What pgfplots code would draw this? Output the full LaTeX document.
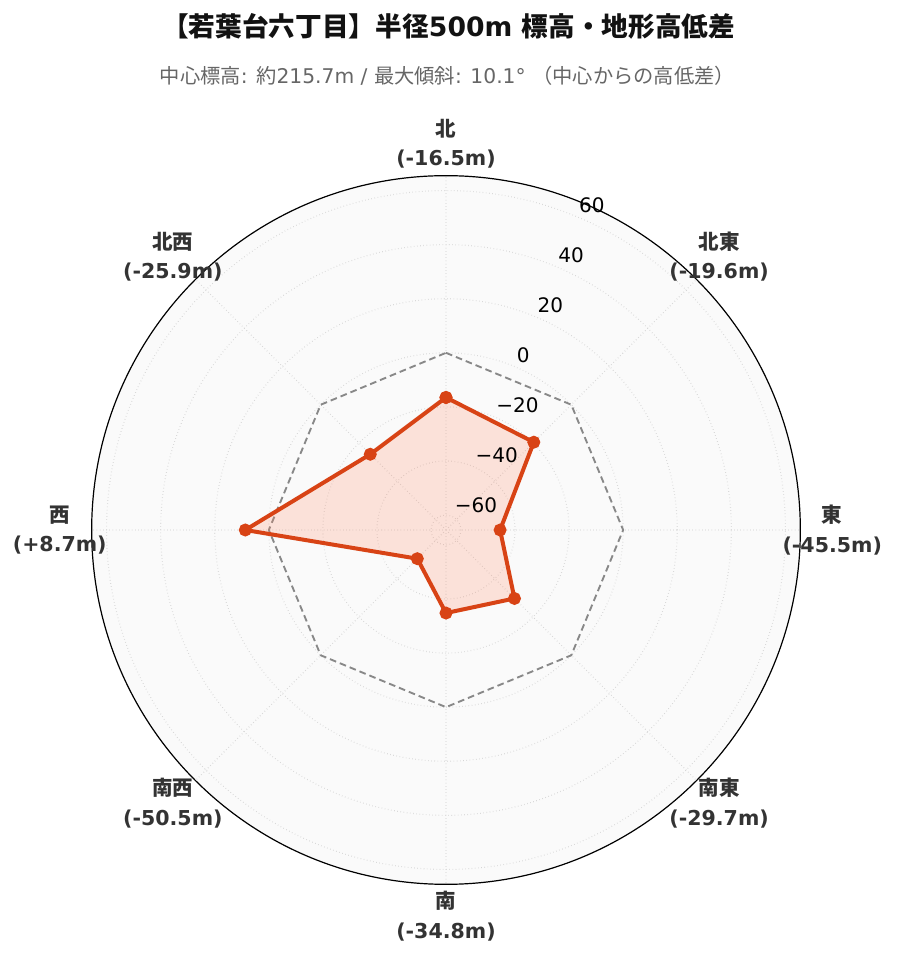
\documentclass[border=0pt]{standalone}
\usepackage{fontspec}
\setmainfont{DejaVu Sans}
\newfontfamily\jp{Noto Sans CJK JP}
\usepackage{pgfplots}
\pgfplotsset{compat=1.18}
\usepgfplotslibrary{polar}
\usepackage{pgfplotstable}
\definecolor{linecol}{HTML}{D84315}
\definecolor{fillcol}{HTML}{FF8A65}
\definecolor{bgcol}{HTML}{FAFAFA}
\definecolor{gridcol}{HTML}{D2D2D2}
\definecolor{labcol}{HTML}{333333}
\definecolor{subcol}{HTML}{666666}
\definecolor{zerocol}{HTML}{888888}

% angle (deg, standard orientation) and elevation difference (m)
\pgfplotstableread{
a v
90 -16.5
45 -19.6
0 -45.5
-45 -29.7
-90 -34.8
-135 -50.5
-180 8.7
-225 -25.9
-270 -16.5
}\elev

\pgfplotstableread{
a v
90 0
45 0
0 0
-45 0
-90 0
-135 0
-180 0
-225 0
-270 0
}\zero

\tikzset{dirlab/.style={align=center, text=labcol, font=\fontsize{15.4}{22}\selectfont\bfseries},
  rlab/.style={anchor=south west, inner sep=0pt, xshift=2.2pt, yshift=2.5pt, font=\fontsize{15}{17}\selectfont}}

\begin{document}
\begin{tikzpicture}
\begin{polaraxis}[
  at={(0pt,0pt)}, anchor=center,
  scale only axis, width=531.5pt, height=531.5pt,
  ymin=0, ymax=131,
  xtick={0,45,...,315}, xticklabels={},
  ytick={5.5,25.5,45.5,65.5,85.5,105.5,125.5}, yticklabels={},
  xmajorgrids, ymajorgrids,
  major grid style={gridcol, dotted, line width=0.8pt},
  axis line style={black, line width=0.9pt},
  y axis line style={draw=none},
  tick style={draw=none},
  clip=false,
  set layers,
]
\begin{pgfonlayer}{axis background}
\fill[bgcol] (axis cs:0,0) circle[radius=265.75pt];
\end{pgfonlayer}

\addplot[zerocol, line width=1.4pt, dash pattern=on 5pt off 3pt] table[x=a, y expr=\thisrow{v}+65.5] {\zero};

\addplot[linecol, line width=3pt, fill=fillcol, fill opacity=0.22, mark=*, mark size=3.3pt, mark options={fill=linecol, fill opacity=1}] table[x=a, y expr=\thisrow{v}+65.5] {\elev};

% radial tick labels (value + 65.5 offset)
\node[rlab] at (axis cs:67.5,5.5) {−60};
\node[rlab] at (axis cs:67.5,25.5) {−40};
\node[rlab] at (axis cs:67.5,45.5) {−20};
\node[rlab] at (axis cs:67.5,65.5) {0};
\node[rlab] at (axis cs:67.5,85.5) {20};
\node[rlab] at (axis cs:67.5,105.5) {40};
\node[rlab] at (axis cs:67.5,125.5) {60};

\node[dirlab] at (axis cs:90,142.8) {{\jp 北}\\(-16.5m)};
\node[dirlab] at (axis cs:45,142.8) {{\jp 北東}\\(-19.6m)};
\node[dirlab] at (axis cs:0,142.8) {{\jp 東}\\(-45.5m)};
\node[dirlab] at (axis cs:-45,142.8) {{\jp 南東}\\(-29.7m)};
\node[dirlab] at (axis cs:-90,142.8) {{\jp 南}\\(-34.8m)};
\node[dirlab] at (axis cs:-135,142.8) {{\jp 南西}\\(-50.5m)};
\node[dirlab] at (axis cs:180,142.8) {{\jp 西}\\(+8.7m)};
\node[dirlab] at (axis cs:135,142.8) {{\jp 北西}\\(-25.9m)};
\end{polaraxis}

\node[font=\fontsize{20}{24}\selectfont\bfseries, text=black!93] at (2pt,377.5pt) {{\jp 【若葉台六丁目】半径}500m {\jp 標高・地形高低差}};
\node[font=\fontsize{15.2}{18}\selectfont, text=subcol] at (1pt,340.5pt) {{\jp 中心標高}: {\jp 約}215.7m / {\jp 最大傾斜}: 10.1° {\jp （中心からの高低差）}};
\path (-334.5pt,-324pt) rectangle (337.5pt,397.5pt);
\end{tikzpicture}
\end{document}
